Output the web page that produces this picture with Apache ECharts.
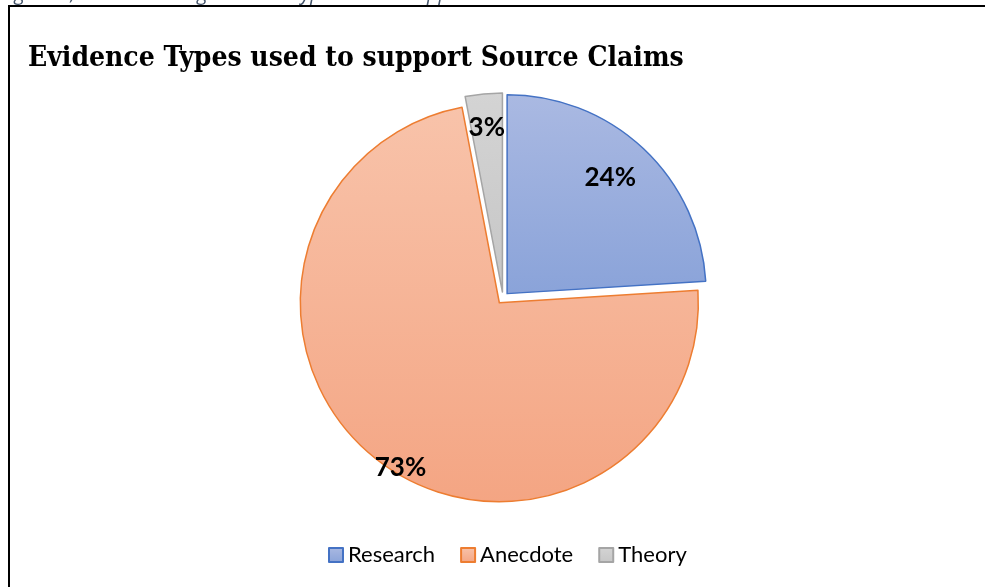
<!DOCTYPE html>
<html><head><meta charset="utf-8">
<script src="https://cdn.jsdelivr.net/npm/echarts@6/dist/echarts.min.js"></script>
<style>html,body{margin:0;padding:0;background:#fff}#c{width:985px;height:587px}</style>
</head><body><div id="c"></div>
<script>
const titleText = 'Evidence Types used to support Source Claims';
const captionText = 'Figure 5; Chart showing evidence type used to support claims';
const categories = ['Research', 'Anecdote', 'Theory'];
const values = [24, 73, 3];

const fills = [
  ['#aab9e2', '#8aa3d9'],
  ['#f8c3aa', '#f4a583'],
  ['#d4d4d4', '#c6c6c6']
];
const borders = ['#4472c4', '#ed7d31', '#a5a5a5'];
const labelShift = [[33, -41], [-36, 84], [-6, -62]];

function grad(c) {
  return new echarts.graphic.LinearGradient(0, 0, 0, 1, [{offset: 0, color: c[0]}, {offset: 1, color: c[1]}]);
}

const chart = echarts.init(document.getElementById('c'), null, {renderer: 'canvas'});
chart.setOption({
  animation: false,
  title: {
    text: titleText, left: 23, top: 40,
    textStyle: {fontFamily: 'DejaVu Serif Condensed', fontWeight: 'bold', fontSize: 28, color: '#000'}
  },
  graphic: [
    {type: 'rect', shape: {x: 9, y: 6, width: 1000, height: 600}, style: {fill: 'none', stroke: '#000', lineWidth: 2}, silent: true},
    {type: 'text', left: 0, top: -16, style: {text: captionText, font: 'italic 20px "Open Sans"', fill: '#44546a'}, silent: true}
  ],
  legend: {
    bottom: 16, left: 323, itemWidth: 14, itemHeight: 14, itemGap: 25,
    icon: 'rect',
    textStyle: {fontFamily: 'Lato', fontSize: 22, color: '#000'},
    data: categories
  },
  series: [{
    type: 'pie',
    center: [503, 298],
    radius: 199,
    startAngle: 90,
    clockwise: true,
    selectedMode: 'multiple',
    selectedOffset: 6,
    avoidLabelOverlap: false,
    label: {
      show: true, position: 'inside', formatter: '{d}%',
      fontFamily: 'Lato', fontWeight: 'bold', fontSize: 26, color: '#000'
    },
    labelLine: {show: false},
    labelLayout: function (p) {
      const s = labelShift[p.dataIndex];
      return {dx: s[0], dy: s[1]};
    },
    emphasis: {disabled: true},
    select: {itemStyle: {}},
    data: categories.map((n, i) => ({
      name: n, value: values[i], selected: true,
      itemStyle: {color: grad(fills[i]), borderColor: borders[i], borderWidth: 1.5}
    }))
  }]
});
</script></body></html>
